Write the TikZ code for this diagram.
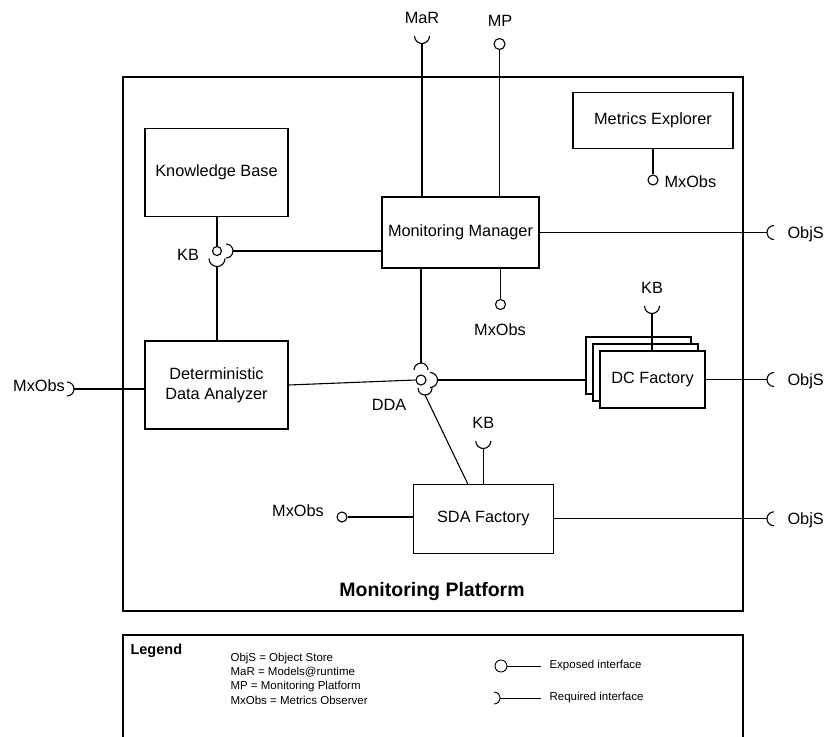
\documentclass[tikz,border=0pt]{standalone}
\usepackage{fontspec}
\setmainfont{Liberation Sans}
\begin{document}
\begin{tikzpicture}[x=1pt,y=-1pt,line width=1.1pt,
  comp/.style={draw, fill=white, inner sep=0pt, align=center,
    font=\fontsize{16.3}{20}\selectfont},
  lbl/.style={inner sep=0pt, text height=11.7pt, text depth=0pt,
    font=\fontsize{16.3}{20}\selectfont},
  ball/.style={draw, circle, fill=white, inner sep=0pt, minimum size=#1},
  ball/.default=10pt,
  legtext/.style={inner sep=0pt, align=left, font=\fontsize{11.5}{14.3}\selectfont},
]
\useasboundingbox (0,0) rectangle (824,736);

% ---------- platform frame ----------
\node[draw, minimum width=620pt, minimum height=534pt, inner sep=0pt] (frame) at (433,344) {};
\node[inner sep=0pt, font=\bfseries\fontsize{19.5}{23}\selectfont] (title) at (432,591) {Monitoring Platform};

% ---------- components ----------
\node[comp, minimum width=143pt, minimum height=88pt] (kb) at (216.5,172.5) {Knowledge Base};
\node[comp, minimum width=157pt, minimum height=71pt] (mm) at (460.5,232.5) {Monitoring Manager};
\node[comp, minimum width=160pt, minimum height=56pt] (me) at (653,120.5) {Metrics Explorer};
\node[comp, minimum width=143pt, minimum height=88pt] (dda) at (216.5,385) {Deterministic\\Data Analyzer};
\node[comp, minimum width=140pt, minimum height=69pt] (sda) at (483.3,518.8) {SDA Factory};
\node[comp, minimum width=105pt, minimum height=57pt] (dcA) at (638.5,365.5) {};
\node[comp, minimum width=105pt, minimum height=57pt] (dcB) at (645.5,372.5) {};
\node[comp, minimum width=105pt, minimum height=57pt] (dcF) at (652.5,379.5) {DC Factory};

% ---------- MaR (required, top) ----------
\coordinate (marC) at (422,36);
\coordinate (marT) at (422,43.5);
\draw ([xshift=-7.5pt]marC) arc[start angle=180, end angle=360, radius=7.5pt];
\draw (marT) -- (marT |- mm.north);
\node[lbl] (lMaR) at (422,18) {MaR};

% ---------- MP (exposed, top) ----------
\node[ball=11pt] (mpB) at (499.5,44) {};
\draw (mpB.south) -- (mpB.south |- mm.north);
\node[lbl] (lMP) at (500,21) {MP};

% ---------- Metrics Explorer MxObs ----------
\node[ball] (meB) at (653,180) {};
\draw (meB.north |- me.south) -- (meB.north);
\node[lbl, anchor=west] (lMeB) at (664,182) {MxObs};

% ---------- Monitoring Manager MxObs ----------
\node[ball] (mmB) at (500.5,304.5) {};
\draw (mmB.north |- mm.south) -- (mmB.north);
\node[lbl] (lMmB) at (500,330) {MxObs};

% ---------- ObjS sockets on the right ----------
\coordinate (os1T) at (767,232.5);
\draw ([yshift=7pt]774,232.5) arc[start angle=90, end angle=270, radius=7pt];
\draw (mm.east) -- (os1T);
\node[lbl, anchor=west] (lOs1) at (787,232.5) {ObjS};

\coordinate (os2T) at (767,379.5);
\draw ([yshift=7pt]774,379.5) arc[start angle=90, end angle=270, radius=7pt];
\draw (dcF.east) -- (os2T);
\node[lbl, anchor=west] (lOs2) at (787,379.5) {ObjS};

\coordinate (os3T) at (767,518.8);
\draw ([yshift=7pt]774,518.8) arc[start angle=90, end angle=270, radius=7pt];
\draw (sda.east) -- (os3T);
\node[lbl, anchor=west] (lOs3) at (787,518.8) {ObjS};

% ---------- KB junction ----------
\node[ball=9pt] (kbB) at (217,251) {};
\draw (kbB.north |- kb.south) -- (kbB.north);
\coordinate (kbRC) at (226,251);
\coordinate (kbRT) at (233,251);
\draw ([yshift=7pt]kbRC) arc[start angle=90, end angle=-90, radius=7pt];
\draw (kbRT) -- (kbRT -| mm.west);
\coordinate (kbDC) at (217,258.5);
\coordinate (kbDT) at (217,266.5);
\draw ([xshift=-8pt]kbDC) arc[start angle=180, end angle=360, radius=8pt];
\draw (kbDT) -- (kbDT |- dda.north);
\node[lbl] (lKb) at (188,255) {KB};

% ---------- DDA junction ----------
\node[ball] (ddB) at (421,380) {};
\draw (dda.east) -- (ddB.west);
\coordinate (ddUC) at (421,370);
\coordinate (ddUT) at (421,363);
\draw ([xshift=-7pt]ddUC) arc[start angle=180, end angle=0, radius=7pt];
\draw (ddUT) -- (ddUT |- mm.south);
\coordinate (ddRC) at (430,380);
\coordinate (ddRT) at (437.5,380);
\draw ([yshift=7.5pt]ddRC) arc[start angle=90, end angle=-90, radius=7.5pt];
\draw (ddRT) -- (ddRT -| dcA.west);
\coordinate (ddDC) at (425,388);
\coordinate (ddDT) at (425,395);
\draw ([xshift=-7pt]ddDC) arc[start angle=180, end angle=360, radius=7pt];
\draw (ddDT) -- ([xshift=-15.6pt]sda.north);
\node[lbl] (lDd) at (389,405) {DDA};

% ---------- DC Factory KB ----------
\coordinate (dcKC) at (652,306);
\coordinate (dcKT) at (652,313.5);
\draw ([xshift=-7.5pt]dcKC) arc[start angle=180, end angle=360, radius=7.5pt];
\draw (dcKT) -- (dcKT |- dcF.north);
\node[lbl] (lDcK) at (652,288) {KB};

% ---------- SDA Factory KB and MxObs ----------
\coordinate (sdKC) at (483.3,441);
\coordinate (sdKT) at (483.3,448.5);
\draw ([xshift=-7.5pt]sdKC) arc[start angle=180, end angle=360, radius=7.5pt];
\draw (sdKT) -- (sda.north);
\node[lbl] (lSdK) at (483.3,423) {KB};

\node[ball] (sdB) at (342,517) {};
\draw (sdB.east) -- (sdB.east -| sda.west);
\node[lbl] (lSdB) at (298,511) {MxObs};

% ---------- DDA MxObs (required, left) ----------
\coordinate (dlC) at (67,389);
\coordinate (dlT) at (74,389);
\draw ([yshift=7pt]dlC) arc[start angle=90, end angle=-90, radius=7pt];
\draw (dlT) -- (dlT -| dda.west);
\node[lbl] (lDl) at (39,385.5) {MxObs};

% ---------- legend ----------
\draw (123,745) -- (123,635) -- (743,635) -- (743,745);
\node[inner sep=0pt, anchor=west, font=\bfseries\fontsize{14.5}{17}\selectfont] (legT) at (130,651) {Legend};
\node[legtext, anchor=north west] (legD) at (230,652.5) {ObjS = Object Store\\MaR = Models@runtime\\MP = Monitoring Platform\\MxObs = Metrics Observer};
\node[ball=12pt, line width=0.9pt] (legB) at (501,666) {};
\coordinate (legBE) at (541,666);
\draw[line width=0.9pt] (legB.east) -- (legBE);
\node[legtext, anchor=west] (legBT) at (549,666) {Exposed interface};
\coordinate (legSC) at (494,698);
\coordinate (legST) at (500,698);
\coordinate (legSE) at (541,698);
\draw[line width=0.9pt] ([yshift=6pt]legSC) arc[start angle=90, end angle=-90, radius=6pt];
\draw[line width=0.9pt] (legST) -- (legSE);
\node[legtext, anchor=west] (legST2) at (549,698) {Required interface};
\end{tikzpicture}
\end{document}
